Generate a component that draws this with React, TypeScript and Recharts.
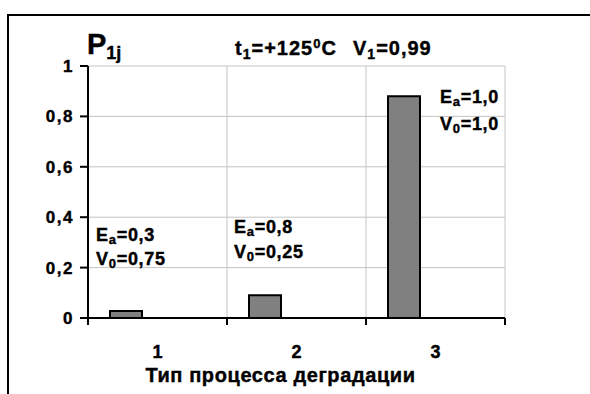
import { Bar, BarChart, CartesianGrid, XAxis, YAxis } from "recharts"

const categories = ["1", "2", "3"]
const p1j = [0.028, 0.09, 0.88]
// the source sheet had two more (empty) series per category, which is why bars sit left
const p2j = [null, null, null]
const p3j = [null, null, null]
const yTicks = [0, 0.2, 0.4, 0.6, 0.8, 1]

const notes = [
  { ea: "0,3", v0: "0,75", x: 96, y1: 241, y2: 265 },
  { ea: "0,8", v0: "0,25", x: 234, y1: 233, y2: 258 },
  { ea: "1,0", v0: "1,0", x: 440, y1: 103, y2: 130 },
]

const data = categories.map((name, i) => ({ name, p1j: p1j[i], p2j: p2j[i], p3j: p3j[i] }))

const W = 590
const H = 394
const M = { top: 66, right: 85, bottom: 0, left: 0 }
const yAxisW = 88
const band = (W - yAxisW - M.right) / categories.length

const font = "'Liberation Sans', Arial, sans-serif"
const fmt = (v: number) => String(v).replace(".", ",")

// place a line of text by its baseline (line-height 1)
function Line({ x, base, size, ls, children }: { x: number; base: number; size: number; ls: number; children: React.ReactNode }) {
  return (
    <div
      style={{
        position: "absolute",
        left: x,
        top: base - size * 0.85,
        fontSize: size,
        lineHeight: 1,
        fontWeight: "bold",
        letterSpacing: ls,
        whiteSpace: "nowrap",
        WebkitTextStroke: "0.4px #000",
      }}
    >
      {children}
    </div>
  )
}

const sub = (t: string, size: number, drop: number) => (
  <span style={{ fontSize: size, position: "relative", top: drop }}>{t}</span>
)

// category label at the centre, tick marks at the category edges (Excel style)
function CatTick(props: any) {
  const { x, y, payload, index } = props
  const last = index === categories.length - 1
  return (
    <g>
      <line x1={x - band / 2} x2={x - band / 2} y1={y} y2={y + 7} stroke="#000" strokeWidth={2} />
      {last && <line x1={x + band / 2} x2={x + band / 2} y1={y} y2={y + 7} stroke="#000" strokeWidth={2} />}
      <text
        x={x}
        y={y + 27}
        dy="0.71em"
        textAnchor="middle"
        fill="#000"
        stroke="#000"
        strokeWidth={0.4}
        fontSize={18}
        fontWeight="bold"
        fontFamily={font}
      >
        {payload.value}
      </text>
    </g>
  )
}

export default function App() {
  return (
    <div style={{ position: "absolute", left: 0, top: 0, width: W, height: H, fontFamily: font, background: "#fff", color: "#000", overflow: "hidden" }}>
      <div style={{ position: "absolute", left: 7, top: 14, right: -4, bottom: -4, borderTop: "2px solid #000", borderLeft: "2px solid #000" }} />
      <BarChart width={W} height={H} data={data} margin={M} barGap={0} barSize={32} style={{ fontFamily: font }}>
        <CartesianGrid
          stroke="#c4c4c4"
          strokeWidth={1}
          verticalCoordinatesGenerator={({ offset }: any) =>
            categories.map((_, i) => offset.left + offset.width * (i / categories.length)).concat(offset.left + offset.width)
          }
        />
        <XAxis
          dataKey="name"
          height={76}
          tickLine={false}
          tickSize={0}
          tickMargin={0}
          stroke="#000"
          axisLine={{ stroke: "#000", strokeWidth: 2 }}
          tick={<CatTick />}
          label={{
            value: "Тип процесса деградации",
            position: "insideBottom",
            offset: 12,
            dx: -16,
            fill: "#000",
            stroke: "#000",
            strokeWidth: 0.4,
            fontSize: 20,
            fontWeight: "bold",
            letterSpacing: 0.6,
          }}
        />
        <YAxis
          width={yAxisW}
          domain={[0, 1]}
          ticks={yTicks}
          tickFormatter={fmt}
          tickSize={8}
          tickMargin={6}
          stroke="#000"
          axisLine={{ stroke: "#000", strokeWidth: 2 }}
          tickLine={{ stroke: "#000", strokeWidth: 2 }}
          tick={{ fill: "#000", stroke: "#000", strokeWidth: 0.4, fontSize: 17, fontWeight: "bold", letterSpacing: 1.5 }}
        />
        <Bar dataKey="p1j" fill="#808080" stroke="#000" strokeWidth={2} isAnimationActive={false} />
        <Bar dataKey="p2j" fill="none" isAnimationActive={false} />
        <Bar dataKey="p3j" fill="none" isAnimationActive={false} />
      </BarChart>

      <Line x={87} base={55} size={29} ls={0}>
        P{sub("1j", 18, 5)}
      </Line>
      <Line x={235} base={55} size={20} ls={1}>
        t{sub("1", 14, 4)}=+125{sub("0", 13, -7)}C
      </Line>
      <Line x={353} base={55} size={20} ls={1}>
        V{sub("1", 14, 4)}=0,99
      </Line>
      {notes.map((n) => (
        <div key={n.ea + n.v0}>
          <Line x={n.x} base={n.y1} size={18} ls={0.7}>
            E{sub("a", 13, 3)}={n.ea}
          </Line>
          <Line x={n.x} base={n.y2} size={18} ls={0.7}>
            V{sub("0", 13, 3)}={n.v0}
          </Line>
        </div>
      ))}
    </div>
  )
}
